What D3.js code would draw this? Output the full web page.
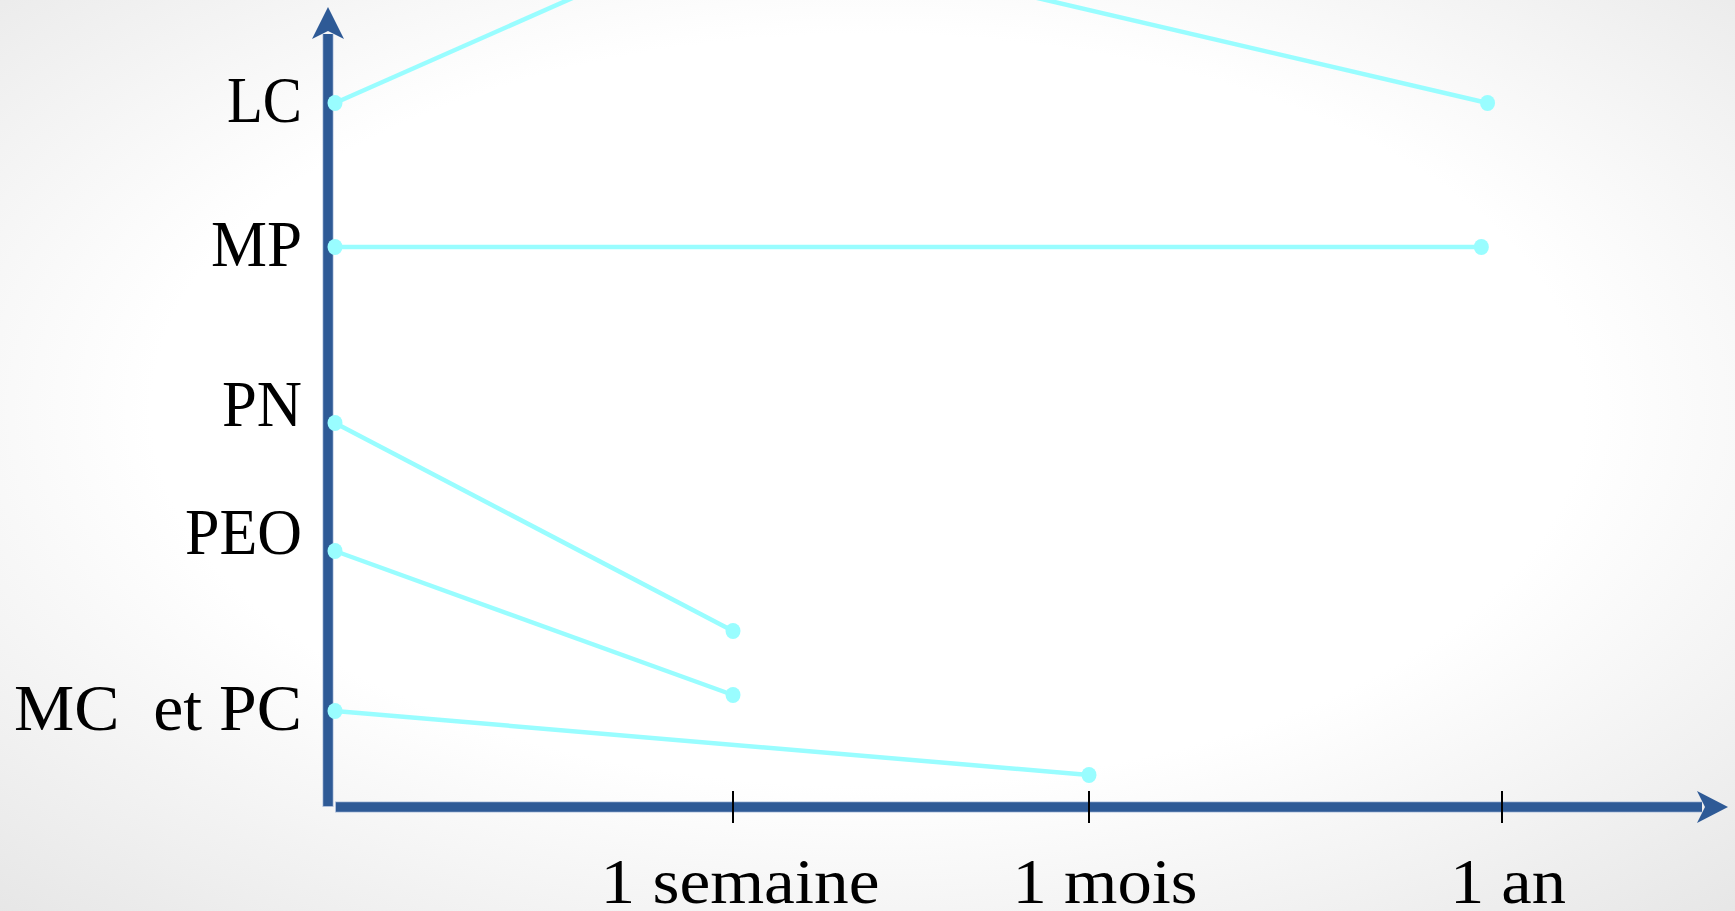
<!DOCTYPE html>
<html><head><meta charset="utf-8">
<script src="https://cdn.jsdelivr.net/npm/d3@7"></script>
<style>html,body{margin:0;padding:0;overflow:hidden;background:#fff}</style>
</head><body>
<script>
// ---- data ----
const xTickLabels = ["1 semaine", "1 mois", "1 an"];
const xTickValues = [1, 2, 3];
const yCategories = ["LC", "MP", "PN", "PEO", "MC  et PC"];
const yCategoryLevels = [88, 70, 50, 34, 12];
const seriesNames = ["LC", "MP", "PN", "PEO", "MC et PC"];
const seriesX = [[0, 1, 2.965], [0, 2.95], [0, 1], [0, 1], [0, 2]];
const seriesY = [[88, 110, 88], [70, 70], [48, 22], [32, 14], [12, 4]];

const W = 1735, H = 911;
const svg = d3.select("body").append("svg").attr("width", W).attr("height", H);
const defs = svg.append("defs");
const grad = defs.append("radialGradient").attr("id", "bg")
  .attr("cx", "50%").attr("cy", "45%").attr("r", "75%");
grad.append("stop").attr("offset", "0%").attr("stop-color", "#ffffff");
grad.append("stop").attr("offset", "55%").attr("stop-color", "#ffffff");
grad.append("stop").attr("offset", "100%").attr("stop-color", "#e6e6e6");
svg.append("rect").attr("width", W).attr("height", H).attr("fill", "url(#bg)");

const x = d3.scaleLinear().domain([0, 1, 2, 3]).range([335, 733, 1089, 1502]);
const y = d3.scaleLinear().domain([0, 100]).range([807, 7]);

const axisColor = "#2E5A96";
const axisEdge = "#aebfdc";
const lineColor = "#99FDFF";
const font = "'Liberation Serif', 'Times New Roman', serif";

// y axis
svg.append("line").attr("x1", 328).attr("x2", 328).attr("y1", 807).attr("y2", 34)
  .attr("stroke", axisEdge).attr("stroke-width", 11);
svg.append("line").attr("x1", 328).attr("x2", 328).attr("y1", 806).attr("y2", 34)
  .attr("stroke", axisColor).attr("stroke-width", 9.5);
svg.append("path").attr("d", `M328,${y(100)} L344,39 L328,31 L312,39 Z`).attr("fill", axisColor);

// x axis
const xAxisY = y(0);
svg.append("line").attr("x1", 335).attr("x2", 1702).attr("y1", xAxisY).attr("y2", xAxisY)
  .attr("stroke", axisEdge).attr("stroke-width", 11);
svg.append("line").attr("x1", 336).attr("x2", 1702).attr("y1", xAxisY).attr("y2", xAxisY)
  .attr("stroke", axisColor).attr("stroke-width", 9.5);
svg.append("path").attr("d", `M1728,${xAxisY} L1697,${xAxisY - 16} L1705,${xAxisY} L1697,${xAxisY + 16} Z`).attr("fill", axisColor);

// ticks
svg.selectAll(".tick").data(xTickValues).join("line")
  .attr("x1", d => x(d)).attr("x2", d => x(d))
  .attr("y1", xAxisY - 16).attr("y2", xAxisY + 16)
  .attr("stroke", "#000").attr("stroke-width", 2);

const xLabelWidths = [279, 185, 116];
const xLabelShift = [7, 16, 6];
svg.selectAll(".xl").data(xTickLabels).join("text")
  .attr("x", (d, i) => x(xTickValues[i]) + xLabelShift[i])
  .attr("y", 903)
  .attr("text-anchor", "middle")
  .attr("font-family", font).attr("font-size", 64).attr("fill", "#000")
  .attr("textLength", (d, i) => xLabelWidths[i]).attr("lengthAdjust", "spacingAndGlyphs")
  .text(d => d);

// y labels
const yLabelWidths = [75, 91, 80, 117, 288];
svg.selectAll(".yl").data(yCategories).join("text")
  .attr("x", 302)
  .attr("y", (d, i) => y(yCategoryLevels[i]) + 19)
  .attr("text-anchor", "end")
  .style("white-space", "pre")
  .attr("font-family", font).attr("font-size", 66).attr("fill", "#000")
  .attr("textLength", (d, i) => yLabelWidths[i]).attr("lengthAdjust", "spacingAndGlyphs")
  .text(d => d);

// series
const line = d3.line().x(d => x(d[0])).y(d => y(d[1]));
seriesNames.forEach((name, s) => {
  const pts = seriesX[s].map((v, i) => [v, seriesY[s][i]]);
  svg.append("path").attr("d", line(pts)).attr("fill", "none")
    .attr("stroke", lineColor).attr("stroke-width", 4.5);
  const ends = [pts[0], pts[pts.length - 1]];
  svg.selectAll(null).data(ends).join("ellipse")
    .attr("cx", d => x(d[0])).attr("cy", d => y(d[1]))
    .attr("rx", 7.5).attr("ry", 8).attr("fill", lineColor);
});
</script>
</body></html>
